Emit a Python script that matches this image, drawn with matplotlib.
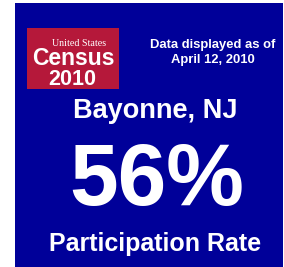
import matplotlib
matplotlib.use("Agg")
import matplotlib.pyplot as plt
from matplotlib.patches import Rectangle

# =========================================================
# CENSUS PARTICIPATION RATE CARD
# =========================================================

city = "Bayonne, NJ"
rate = 56
as_of = "April 12, 2010"
rate_label = "Participation Rate"

blue = "#000099"
red = "#B5183A"
font = "Liberation Sans"

fig = plt.figure(figsize=(2.84, 2.67), dpi=100)
ax = fig.add_axes([0, 0, 1, 1])
ax.set_xlim(0, 284)
ax.set_ylim(267, 0)
ax.axis("off")

ax.add_patch(Rectangle((15, 3), 268, 264, color=blue, lw=0))

# logo
ax.add_patch(Rectangle((27, 28), 92, 61, color=red, lw=0))
ax.text(79, 46, "United States", color="white", fontsize=7.2,
        family="Liberation Serif", ha="center", va="baseline")
ax.text(73, 65, "Census", color="white", fontsize=16.5, weight="bold",
        family=font, ha="center", va="baseline")
ax.text(72, 85, "2010", color="white", fontsize=15.5, weight="bold",
        family=font, ha="center", va="baseline")

ax.text(213, 47.7, "Data displayed as of", color="white", fontsize=9.4,
        weight="bold", family=font, ha="center", va="baseline")
ax.text(213, 63.3, as_of, color="white", fontsize=9.4,
        weight="bold", family=font, ha="center", va="baseline")

ax.text(155, 117.7, city, color="white", fontsize=19.5,
        weight="bold", family=font, ha="center", va="baseline")
ax.text(157, 205, f"{rate}%", color="white", fontsize=63,
        weight="bold", family=font, ha="center", va="baseline")
ax.text(155, 250.7, rate_label, color="white", fontsize=18,
        weight="bold", family=font, ha="center", va="baseline")

fig.savefig("out.png", dpi=100)
